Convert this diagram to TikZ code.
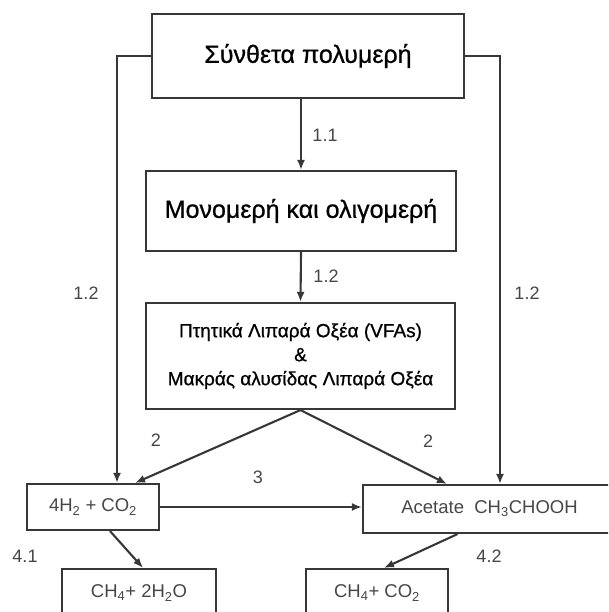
\documentclass[tikz,border=0pt]{standalone}
\usepackage{fontspec}
\setmainfont{Liberation Sans}
\newfontfamily\heavyfont[FakeBold=0.8]{Liberation Sans}
\usetikzlibrary{arrows.meta}
\definecolor{linegray}{RGB}{55,55,55}
\definecolor{labelgray}{RGB}{70,70,70}

\begin{document}
\begin{tikzpicture}[x=1pt,y=-1pt,line width=2.1pt,draw=linegray,
    box/.style={draw,rectangle,inner sep=0pt,align=center},
    big/.style={font=\heavyfont\fontsize{25}{30}\selectfont},
    mid/.style={font=\heavyfont\fontsize{19}{24}\selectfont},
    low/.style={font=\fontsize{18.5}{22}\selectfont,text=labelgray},
    lbl/.style={font=\fontsize{18}{21}\selectfont,text=labelgray},
    arr/.style={-{Latex[length=10pt,width=8pt]}}]
  \useasboundingbox (0,0) rectangle (608,612);
  \clip (0,0) rectangle (608,612);
  %\draw[help lines] (0,0) grid[step=50] (608,612);
  \node[box,big,minimum width=312,minimum height=84] (poly) at (308,56) {Σύνθετα πολυμερή};
  \node[box,big,minimum width=310,minimum height=80] (mono) at (301,211) {Μονομερή και ολιγομερή};
  \node[box,mid,minimum width=309,minimum height=106] (vfa) at (300.5,356)
    {Πτητικά Λιπαρά Οξέα (VFAs)\\ \&\\ Μακράς αλυσίδας Λιπαρά Οξέα};
  \node[box,low,minimum width=132,minimum height=46] (hyd) at (93,507) {4H\textsubscript{2} + CO\textsubscript{2}};
  \node[box,low,minimum width=253,minimum height=48] (acet) at (489.5,509) {Acetate\ \ CH\textsubscript{3}CHOOH};
  \node[box,low,minimum width=154,minimum height=48] (meth1) at (139,593) {CH\textsubscript{4}+ 2H\textsubscript{2}O};
  \node[box,low,minimum width=142,minimum height=48] (meth2) at (377,593) {CH\textsubscript{4}+ CO\textsubscript{2}};
  \coordinate (lcol) at (117,0);
  \coordinate (rcol) at (500,0);
  \draw[arr] (mono.north |- poly.south) -- (mono.north);
  \draw[arr] (mono.south) -- (vfa.north);
  \draw[arr] (poly.west) -| (hyd.north -| lcol);
  \draw[arr] (poly.east) -| (acet.north -| rcol);
  \draw[arr] (vfa.south) -- ([xshift=-25pt]hyd.north east);
  \draw[arr] (vfa.south) -- ([xshift=85pt]acet.north west);
  \draw[arr] (hyd.east) -- (hyd.east -| acet.west);
  \draw[arr] ([xshift=17pt]hyd.south) -- ([xshift=4pt]meth1.north);
  \draw[arr] ([xshift=-32pt]acet.south) -- ([xshift=7pt]meth2.north);
  \node[lbl] (l11) at (325,135) {1.1};
  \node[lbl] (l12m) at (326,276) {1.2};
  \node[lbl] (l12l) at (86,293) {1.2};
  \node[lbl] (l12r) at (527,293) {1.2};
  \node[lbl] (l2l) at (156,440) {2};
  \node[lbl] (l2r) at (428,441) {2};
  \node[lbl] (l3) at (258,477) {3};
  \node[lbl] (l41) at (25,556) {4.1};
  \node[lbl] (l42) at (489,556) {4.2};
\end{tikzpicture}
\end{document}
